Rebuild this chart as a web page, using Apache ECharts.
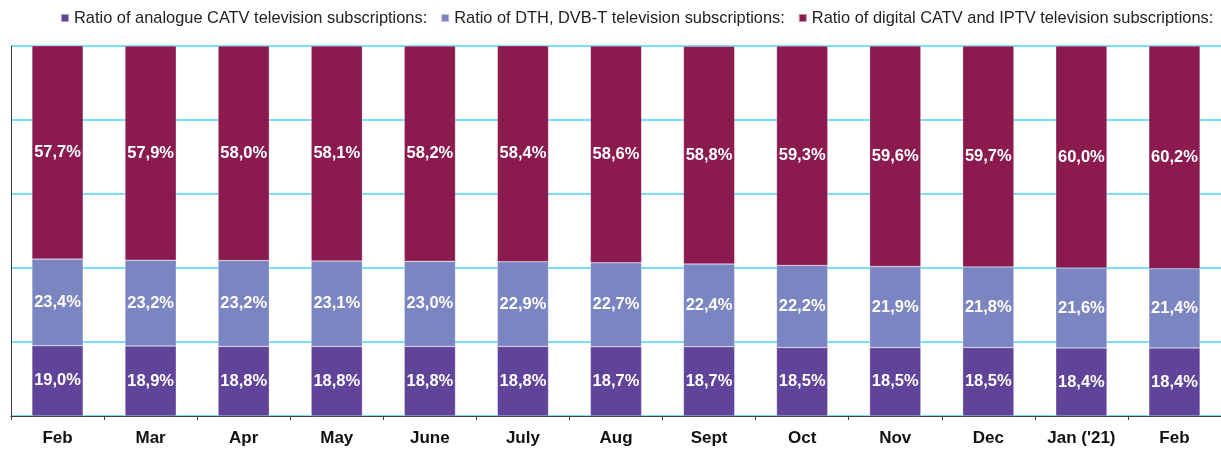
<!DOCTYPE html>
<html>
<head>
<meta charset="utf-8">
<script src="https://cdn.jsdelivr.net/npm/echarts@6/dist/echarts.min.js"></script>
<style>
  html, body { margin: 0; padding: 0; background: #fff; }
  #chart { width: 1221px; height: 450px; }
</style>
</head>
<body>
<div id="chart"></div>
<script>
const months = ['Feb', 'Mar', 'Apr', 'May', 'June', 'July', 'Aug', 'Sept', 'Oct', 'Nov', 'Dec', "Jan ('21)", 'Feb'];

const analogueCatv = [19.0, 18.9, 18.8, 18.8, 18.8, 18.8, 18.7, 18.7, 18.5, 18.5, 18.5, 18.4, 18.4];
const dthDvbt = [23.4, 23.2, 23.2, 23.1, 23.0, 22.9, 22.7, 22.4, 22.2, 21.9, 21.8, 21.6, 21.4];
const digitalIptv = [57.7, 57.9, 58.0, 58.1, 58.2, 58.4, 58.6, 58.8, 59.3, 59.6, 59.7, 60.0, 60.2];

const seriesNames = [
  'Ratio of analogue CATV television subscriptions:',
  'Ratio of DTH, DVB-T television subscriptions:',
  'Ratio of digital CATV and IPTV television subscriptions:'
];
const colors = ['#604499', '#7A85C1', '#8B1B4F'];
const font = 'Liberation Sans, Arial, sans-serif';

const chart = echarts.init(document.getElementById('chart'));

// values use a decimal comma, e.g. 57,7%
const fmt = (p) => p.value.toFixed(1).replace('.', ',') + '%';

const makeSeries = (name, data) => ({
  name,
  type: 'bar',
  stack: 'total',
  barWidth: '55%',
  data,
  itemStyle: { borderColor: 'rgba(255,255,255,0.5)', borderWidth: 0.5 },
  label: {
    show: true,
    position: 'inside',
    color: '#fff',
    fontFamily: font,
    fontWeight: 'bold',
    fontSize: 16.5,
    formatter: fmt
  }
});

chart.setOption({
  animation: false,
  color: colors,
  legend: {
    top: 5,
    left: 55,
    itemWidth: 8,
    itemHeight: 8,
    itemGap: 13,
    icon: 'rect',
    textStyle: { color: '#222', fontSize: 16.4, fontFamily: font },
    data: seriesNames
  },
  grid: { left: 11, right: 0, top: 46, bottom: 34 },
  xAxis: {
    type: 'category',
    data: months,
    axisLine: { lineStyle: { color: '#404040', width: 1 } },
    axisTick: { show: true, length: 4, lineStyle: { color: '#404040' } },
    axisLabel: {
      color: '#111',
      fontWeight: 'bold',
      fontSize: 17,
      margin: 14,
      fontFamily: font
    }
  },
  yAxis: {
    type: 'value',
    min: 0,
    max: 100,
    interval: 20,
    axisLine: { show: true, lineStyle: { color: '#404040', width: 1 } },
    axisTick: { show: false },
    axisLabel: { show: false },
    splitLine: { lineStyle: { color: '#4CD6F8', width: 1.5 } }
  },
  series: [
    makeSeries(seriesNames[0], analogueCatv),
    makeSeries(seriesNames[1], dthDvbt),
    makeSeries(seriesNames[2], digitalIptv)
  ]
});

window.addEventListener('resize', () => chart.resize());
</script>
</body>
</html>
